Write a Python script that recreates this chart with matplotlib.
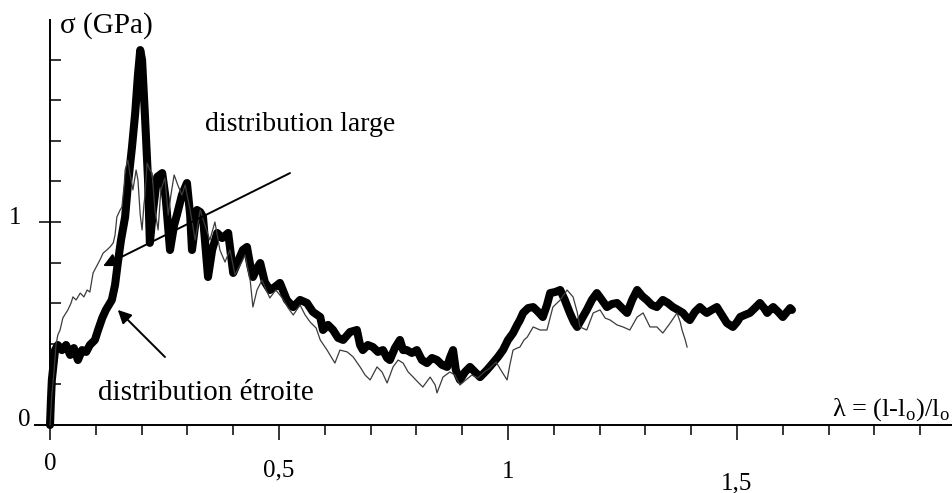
"""Stress-strain curves for two fibre distributions (narrow vs wide)."""

import matplotlib
matplotlib.use("Agg")
import matplotlib.pyplot as plt
import numpy as np

# strain lambda and stress sigma (GPa)
narrow_strain = [
    0.000, 0.002, 0.004, 0.007, 0.011, 0.017, 0.026, 0.035, 0.044, 0.052,
    0.061, 0.070, 0.079, 0.087, 0.098, 0.105, 0.114, 0.122, 0.135, 0.142,
    0.148, 0.155, 0.164, 0.170, 0.179, 0.186, 0.192, 0.197, 0.201, 0.207,
    0.214, 0.218, 0.225, 0.234, 0.245, 0.253, 0.262, 0.271, 0.277, 0.288,
    0.299, 0.306, 0.310, 0.317, 0.321, 0.328, 0.334, 0.341, 0.345, 0.354,
    0.365, 0.376, 0.389, 0.400, 0.410, 0.421, 0.430, 0.437, 0.443, 0.452,
    0.459, 0.469, 0.480, 0.491, 0.502, 0.517, 0.531, 0.546, 0.561, 0.574,
    0.590, 0.596, 0.607, 0.618, 0.629, 0.640, 0.655, 0.670, 0.677, 0.683,
    0.694, 0.705, 0.716, 0.727, 0.736, 0.742, 0.753, 0.764, 0.771, 0.779,
    0.790, 0.801, 0.812, 0.823, 0.834, 0.845, 0.856, 0.867, 0.873, 0.880,
    0.886, 0.895, 0.906, 0.917, 0.928, 0.939, 0.954, 0.967, 0.978, 0.989,
    1.000, 1.011, 1.020, 1.026, 1.033, 1.044, 1.055, 1.066, 1.076, 1.085,
    1.092, 1.103, 1.114, 1.124, 1.135, 1.144, 1.151, 1.162, 1.172, 1.183,
    1.194, 1.205, 1.216, 1.227, 1.238, 1.249, 1.260, 1.271, 1.282, 1.293,
    1.303, 1.314, 1.325, 1.338, 1.349, 1.360, 1.371, 1.382, 1.391, 1.397,
    1.408, 1.419, 1.428, 1.434, 1.445, 1.456, 1.467, 1.478, 1.491, 1.500,
    1.507, 1.517, 1.528, 1.539, 1.550, 1.559, 1.566, 1.572, 1.579, 1.590,
    1.600, 1.609, 1.616, 1.620,
]
narrow_stress = [
    0.000, 0.123, 0.222, 0.286, 0.369, 0.394, 0.369, 0.394, 0.345, 0.379,
    0.320, 0.369, 0.360, 0.394, 0.419, 0.468, 0.527, 0.567, 0.616, 0.690,
    0.798, 0.911, 1.025, 1.182, 1.369, 1.537, 1.724, 1.847, 1.798, 1.537,
    1.207, 0.897, 1.059, 1.222, 1.241, 1.108, 0.862, 0.985, 1.034, 1.133,
    1.192, 1.034, 0.862, 0.985, 1.059, 1.049, 1.025, 0.837, 0.729, 0.862,
    0.946, 0.921, 0.946, 0.749, 0.803, 0.862, 0.877, 0.788, 0.729, 0.773,
    0.798, 0.704, 0.665, 0.680, 0.700, 0.616, 0.581, 0.616, 0.601, 0.557,
    0.532, 0.468, 0.493, 0.468, 0.429, 0.419, 0.458, 0.468, 0.394, 0.369,
    0.394, 0.384, 0.360, 0.369, 0.330, 0.320, 0.379, 0.419, 0.369, 0.369,
    0.355, 0.369, 0.320, 0.305, 0.330, 0.320, 0.296, 0.286, 0.330, 0.369,
    0.271, 0.222, 0.261, 0.286, 0.261, 0.236, 0.271, 0.305, 0.335, 0.369,
    0.419, 0.453, 0.493, 0.517, 0.552, 0.576, 0.581, 0.557, 0.532, 0.591,
    0.650, 0.655, 0.665, 0.616, 0.552, 0.507, 0.483, 0.527, 0.567, 0.616,
    0.650, 0.616, 0.581, 0.596, 0.601, 0.576, 0.552, 0.616, 0.665, 0.635,
    0.616, 0.591, 0.581, 0.616, 0.601, 0.581, 0.567, 0.552, 0.527, 0.517,
    0.557, 0.581, 0.562, 0.552, 0.567, 0.581, 0.542, 0.502, 0.483, 0.507,
    0.532, 0.542, 0.552, 0.576, 0.601, 0.576, 0.552, 0.567, 0.581, 0.557,
    0.532, 0.557, 0.576, 0.567,
]

wide_strain = [
    0.000, 0.004, 0.009, 0.013, 0.017, 0.022, 0.028, 0.035, 0.039, 0.046,
    0.050, 0.057, 0.066, 0.074, 0.081, 0.087, 0.094, 0.103, 0.109, 0.116,
    0.124, 0.131, 0.138, 0.142, 0.146, 0.153, 0.157, 0.162, 0.164, 0.170,
    0.175, 0.181, 0.188, 0.192, 0.197, 0.201, 0.205, 0.207, 0.212, 0.218,
    0.223, 0.229, 0.236, 0.242, 0.251, 0.258, 0.264, 0.271, 0.279, 0.288,
    0.295, 0.306, 0.317, 0.328, 0.338, 0.349, 0.360, 0.371, 0.382, 0.393,
    0.404, 0.415, 0.426, 0.437, 0.443, 0.452, 0.463, 0.472, 0.480, 0.493,
    0.507, 0.520, 0.531, 0.546, 0.557, 0.568, 0.581, 0.590, 0.605, 0.622,
    0.633, 0.649, 0.662, 0.677, 0.688, 0.699, 0.714, 0.725, 0.736, 0.749,
    0.760, 0.771, 0.782, 0.793, 0.803, 0.814, 0.830, 0.841, 0.845, 0.858,
    0.873, 0.884, 0.895, 0.908, 0.921, 0.934, 0.948, 0.961, 0.974, 0.987,
    0.998, 1.004, 1.011, 1.020, 1.026, 1.035, 1.042, 1.055, 1.070, 1.085,
    1.098, 1.114, 1.129, 1.142, 1.151, 1.157, 1.172, 1.186, 1.201, 1.212,
    1.223, 1.238, 1.251, 1.266, 1.282, 1.295, 1.310, 1.325, 1.338, 1.354,
    1.369, 1.376, 1.380, 1.387, 1.391,
]
wide_stress = [
    0.000, 0.148, 0.271, 0.394, 0.443, 0.468, 0.527, 0.552, 0.567, 0.601,
    0.631, 0.616, 0.650, 0.631, 0.665, 0.655, 0.749, 0.788, 0.813, 0.847,
    0.862, 0.877, 0.897, 0.936, 1.025, 1.059, 1.074, 1.182, 1.256, 1.305,
    1.232, 1.158, 1.256, 1.207, 1.034, 0.961, 1.084, 1.123, 1.291, 1.256,
    1.241, 1.059, 0.961, 1.158, 1.217, 1.034, 1.133, 1.232, 1.182, 1.133,
    1.182, 1.059, 0.911, 1.059, 0.985, 0.911, 1.000, 0.862, 0.803, 0.862,
    0.739, 0.788, 0.837, 0.714, 0.581, 0.665, 0.714, 0.665, 0.626, 0.665,
    0.626, 0.576, 0.542, 0.591, 0.542, 0.507, 0.478, 0.419, 0.369, 0.305,
    0.369, 0.360, 0.335, 0.286, 0.246, 0.222, 0.286, 0.261, 0.207, 0.286,
    0.320, 0.305, 0.261, 0.236, 0.212, 0.187, 0.236, 0.197, 0.158, 0.236,
    0.261, 0.246, 0.197, 0.222, 0.246, 0.232, 0.261, 0.281, 0.310, 0.261,
    0.222, 0.296, 0.369, 0.379, 0.384, 0.419, 0.433, 0.483, 0.468, 0.468,
    0.581, 0.616, 0.665, 0.631, 0.557, 0.483, 0.468, 0.552, 0.567, 0.527,
    0.517, 0.493, 0.483, 0.468, 0.532, 0.552, 0.483, 0.483, 0.453, 0.502,
    0.552, 0.507, 0.468, 0.419, 0.384,
]

x_tick_values = [0, 0.5, 1, 1.5]
x_tick_labels = ["0", "0,5", "1", "1,5"]

plt.rcParams["font.family"] = ["Liberation Serif", "DejaVu Serif"]
plt.rcParams["mathtext.fontset"] = "custom"
plt.rcParams["mathtext.rm"] = "Liberation Serif"

fig = plt.figure(figsize=(9.53, 4.93), dpi=100)
ax = fig.add_axes([0, 0, 1, 1])
ax.set_xlim(-0.1092, 1.9716)
ax.set_ylim(-0.335, 2.0936)

ax.plot(narrow_strain, narrow_stress, color="black", lw=5.8,
        solid_joinstyle="round", solid_capstyle="round", zorder=3)
ax.plot(wide_strain, wide_stress, color="#3c3c3c", lw=0.9, zorder=4)

for side in ("top", "right"):
    ax.spines[side].set_visible(False)
ax.spines["left"].set_position(("data", 0))
ax.spines["bottom"].set_position(("data", 0))
ax.spines["left"].set_bounds(0, 1.995)
ax.spines["bottom"].set_bounds(-0.033, 1.972)
for side in ("left", "bottom"):
    ax.spines[side].set_linewidth(1.4)

ax.set_xticks(x_tick_values)
ax.set_xticks([v / 10 for v in range(1, 20) if v % 5], minor=True)
ax.set_yticks([1])
ax.set_yticks([0.2, 0.4, 0.6, 0.8, 1.2, 1.4, 1.6, 1.8], minor=True)
ax.tick_params(axis="x", which="major", direction="out", length=10.8, width=1.1)
ax.tick_params(axis="x", which="minor", direction="out", length=7.2, width=1.1)
ax.tick_params(axis="y", which="major", direction="inout", length=16, width=1.1)
ax.tick_params(axis="y", which="minor", direction="in", length=7.8, width=1.1)
ax.tick_params(labelbottom=False, labelleft=False)

# staggered x labels as in the original scan
label_y = [-0.19, -0.222, -0.232, -0.286]
for v, lab, ly in zip(x_tick_values, x_tick_labels, label_y):
    ax.text(v, ly, lab, ha="center", va="center", fontsize=18)
ax.text(-0.076, 1.02, "1", ha="center", va="center", fontsize=18)
ax.text(-0.057, 0.025, "0", ha="center", va="center", fontsize=18)

ax.text(0.022, 1.97, "σ (GPa)", ha="left", va="center", fontsize=21)
ax.text(1.707, 0.074, r"λ = (l-l$_{\rm o}$)/l$_{\rm o}$", ha="left", va="center",
        fontsize=19)
ax.text(0.338, 1.478, "distribution large", ha="left", va="center", fontsize=20)
ax.text(0.105, 0.158, "distribution étroite", ha="left", va="center", fontsize=21)

arrow_kw = dict(arrowstyle="-|>", color="black", lw=1.4, mutation_scale=20,
                shrinkA=0, shrinkB=0)
ax.annotate("", xy=(0.116, 0.783), xytext=(0.524, 1.241), arrowprops=arrow_kw,
            zorder=5)
ax.annotate("", xy=(0.148, 0.567), xytext=(0.251, 0.335), arrowprops=arrow_kw,
            zorder=5)

fig.savefig("out.png", dpi=100, facecolor="white")
